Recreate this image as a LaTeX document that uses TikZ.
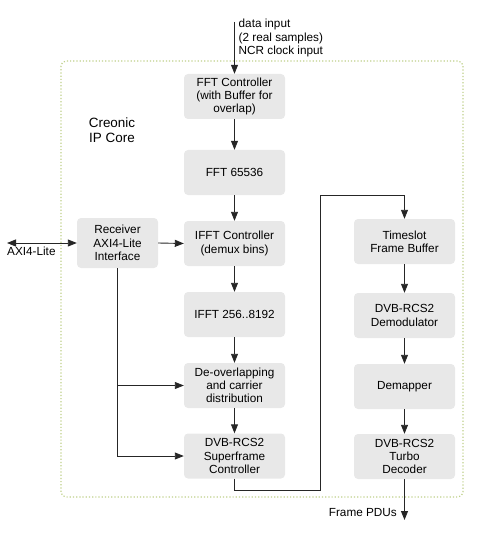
\documentclass[tikz,border=0pt]{standalone}
\usepackage{fontspec}
\setmainfont{Liberation Sans}
\usetikzlibrary{arrows.meta}
\definecolor{blockgray}{HTML}{E8E8E8}
\definecolor{coreframe}{HTML}{BFD08A}

\begin{document}
\begin{tikzpicture}[x=1bp, y=-1bp,
        block/.style = {fill=blockgray, rounded corners=4bp, minimum width=101bp,
            minimum height=45bp, align=center, inner sep=1bp,
            font=\fontsize{11.8}{13.3}\selectfont},
        lbl/.style = {align=left, inner sep=0pt, font=\fontsize{11.8}{13.5}\selectfont},
        flow/.style = {draw=black!85, line width=0.9bp, -{Triangle[length=9bp, width=7bp]}},
        wire/.style = {draw=black!85, line width=0.9bp}]
        \useasboundingbox (0,0) rectangle (480,544);
        % IP core frame
        \draw[coreframe, dotted, line width=1.2bp, rounded corners=5bp] (61,61) rectangle (463,497);
        \node[align=center, font=\fontsize{13.5}{15}\selectfont] (core) at (112,130) {Creonic\\IP Core};
        % left column
        \node[block] (fftctrl) at (234.5,96.5) {FFT Controller\\(with Buffer for\\overlap)};
        \node[block] (fft) at (234.5,172.5) {FFT 65536};
        \node[block] (ifftctrl) at (234.5,243.5) {IFFT Controller\\(demux bins)};
        \node[block] (ifft) at (234.5,314.5) {IFFT 256..8192};
        \node[block] (deovl) at (234.5,385.5) {De-overlapping\\and carrier\\distribution};
        \node[block] (superframe) at (234.5,456) {DVB-RCS2\\Superframe\\Controller};
        \node[block, minimum width=81bp, minimum height=50bp] (receiver) at (117.5,243) {Receiver\\AXI4-Lite\\Interface};
        % right column
        \node[block] (timeslot) at (404.5,241.5) {Timeslot\\Frame Buffer};
        \node[block] (demod) at (404.5,315.5) {DVB-RCS2\\Demodulator};
        \node[block] (demapper) at (404.5,386.5) {Demapper};
        \node[block] (turbo) at (404.5,456.5) {DVB-RCS2\\Turbo\\Decoder};
        % external ends
        \coordinate (datain) at (234.5,22);
        \coordinate (axi) at (7,243);
        \coordinate (pduout) at (404.5,520);
        \node[lbl, anchor=north west] (datalbl) at (238.5,19) {data input\\(2 real samples)\\NCR clock input};
        \node[lbl, anchor=north west] (axilbl) at (7,246.5) {AXI4-Lite};
        \node[lbl, anchor=east] (pdulbl) at (397,513) {Frame PDUs};

        \draw[flow] (datain) -- (fftctrl);
        \draw[flow] (fftctrl) -- (fft);
        \draw[flow] (fft) -- (ifftctrl);
        \draw[flow] (ifftctrl) -- (ifft);
        \draw[flow] (ifft) -- (deovl);
        \draw[flow] (deovl) -- (superframe);
        \draw[flow] (superframe.south) -- ++(0,12) -| (320,195) -| (timeslot.north);
        \draw[flow] (timeslot) -- (demod);
        \draw[flow] (demod) -- (demapper);
        \draw[flow] (demapper) -- (turbo);
        \draw[flow] (turbo) -- (pduout);
        \draw[flow, {Triangle[length=9bp, width=7bp]}-{Triangle[length=9bp, width=7bp]}] (axi) -- (receiver.west);
        \draw[flow] (receiver.east) -- (ifftctrl.west);
        \draw[flow] (receiver.south) |- (superframe.west);
        \draw[flow] (receiver.south |- deovl.west) -- (deovl.west);
    \end{tikzpicture}
\end{document}
